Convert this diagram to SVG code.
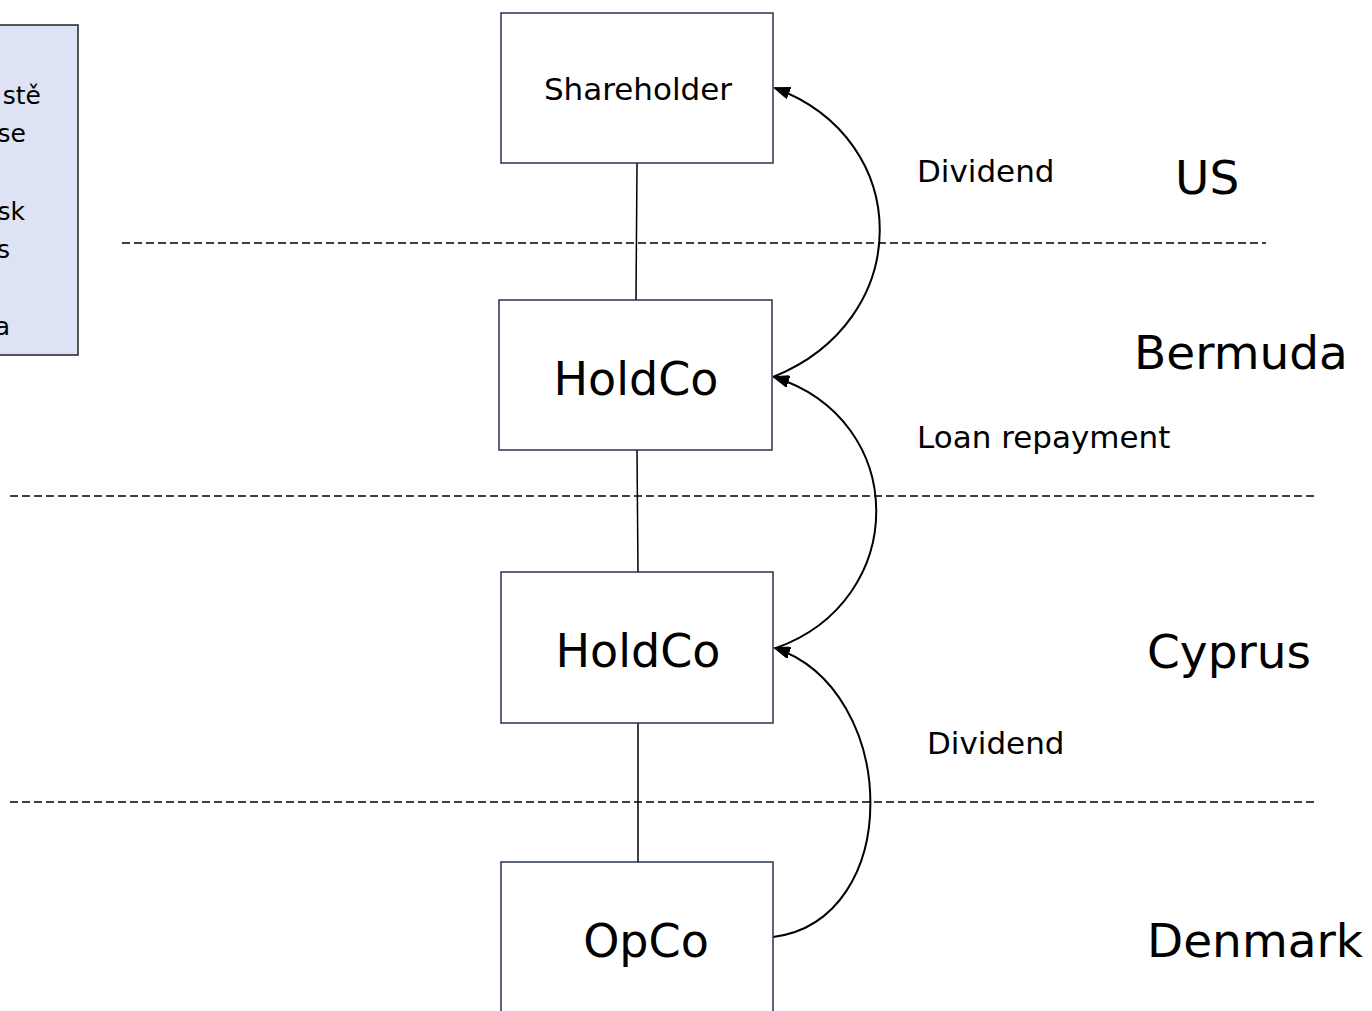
<svg xmlns="http://www.w3.org/2000/svg" width="1372" height="1011" viewBox="0 0 1372 1011">
<defs>
<style>
.box{fill:#ffffff;stroke:#243352;stroke-width:1.5}
.t{font-family:"DejaVu Sans","Liberation Sans",sans-serif;fill:#000}
.big{font-size:46px}
.mid{font-size:31px}
.jur{font-size:47px}
.note{font-size:25px}
.dash{stroke:#000;stroke-width:1.4;stroke-dasharray:8 4;fill:none}
.link{stroke:#000;stroke-width:1.5;fill:none}
.flow{stroke:#000;stroke-width:2;fill:none;marker-end:url(#ah)}
</style>
<marker id="ah" viewBox="0 0 16 12" refX="15" refY="6" markerWidth="16" markerHeight="12" orient="auto" markerUnits="userSpaceOnUse">
<path d="M0,0 L16,6 L0,12 z" fill="#000" stroke="#000" stroke-width="1"/>
</marker>
</defs>
<rect width="1372" height="1011" fill="#fff"/>
<g id="note">
<rect x="-2" y="25" width="80" height="330" fill="#dde3f5" stroke="#222" stroke-width="1.5"/>
<text class="t note" text-anchor="end" x="41" y="104">stě</text>
<text class="t note" text-anchor="end" x="26" y="142">se</text>
<text class="t note" text-anchor="end" x="25" y="220">sk</text>
<text class="t note" text-anchor="end" x="10" y="258">s</text>
<text class="t note" text-anchor="end" x="10" y="335">a</text>
</g>
<g id="separators">
<line class="dash" x1="122" y1="243" x2="1266" y2="243"/>
<line class="dash" x1="10" y1="496" x2="1318" y2="496"/>
<line class="dash" x1="10" y1="802" x2="1318" y2="802"/>
</g>
<g id="connectors">
<line class="link" x1="637" y1="163" x2="636" y2="300"/>
<line class="link" x1="637" y1="450" x2="638" y2="572"/>
<line class="link" x1="638" y1="723" x2="638" y2="862"/>
<path class="flow" d="M773,377 C915,320 915,140 775,88"/>
<path class="flow" d="M776,648 C910,600 910,420 774,377"/>
<path class="flow" d="M773,937 C905,920 900,690 775,648"/>
</g>
<g id="shareholder">
<rect class="box" x="501" y="13" width="272" height="150"/>
<text class="t mid" text-anchor="middle" x="638" y="100">Shareholder</text>
</g>
<g id="holdco-bermuda">
<rect class="box" x="499" y="300" width="273" height="150"/>
<text class="t big" text-anchor="middle" x="636" y="395">HoldCo</text>
</g>
<g id="holdco-cyprus">
<rect class="box" x="501" y="572" width="272" height="151"/>
<text class="t big" text-anchor="middle" x="638" y="667">HoldCo</text>
</g>
<g id="opco">
<rect class="box" x="501" y="862" width="272" height="160"/>
<text class="t big" text-anchor="middle" x="646" y="957">OpCo</text>
</g>
<g id="labels">
<text class="t mid" x="917" y="182">Dividend</text>
<text class="t mid" x="917" y="448">Loan repayment</text>
<text class="t mid" x="927" y="754">Dividend</text>
<text class="t jur" x="1175" y="194">US</text>
<text class="t jur" x="1134" y="369">Bermuda</text>
<text class="t jur" x="1147" y="668">Cyprus</text>
<text class="t jur" x="1147" y="957">Denmark</text>
</g>
</svg>
